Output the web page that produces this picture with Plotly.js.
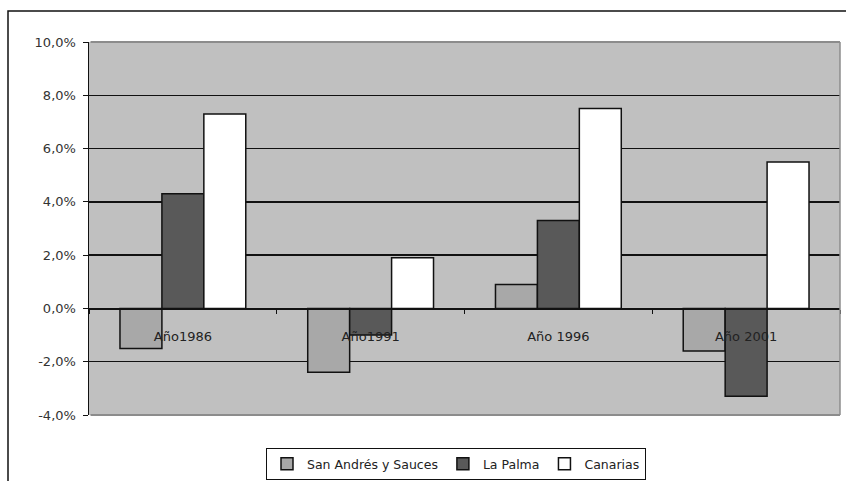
<!DOCTYPE html>
<html>
<head>
<meta charset="utf-8">
<script src="https://cdn.plot.ly/plotly-3.0.1.min.js"></script>
<style>html,body{margin:0;padding:0;background:#fff;}#chart{width:846px;height:481px;}</style>
</head>
<body>
<div id="chart"></div>
<script>
var categories = ["Año1986", "Año1991", "Año 1996", "Año 2001"];
var seriesNames = ["San Andrés y Sauces", "La Palma", "Canarias"];
var sanAndres = [-1.5, -2.4, 0.9, -1.6];
var laPalma = [4.3, -1.0, 3.3, -3.3];
var canarias = [7.3, 1.9, 7.5, 5.5];
var yTicks = [-4, -2, 0, 2, 4, 6, 8, 10];
var yTickText = yTicks.map(function (v) { return v.toFixed(1).replace(".", ",") + "%"; });

var colors = ["#a8a8a8", "#595959", "#ffffff"];
var values = [sanAndres, laPalma, canarias];
var traces = values.map(function (v, i) {
  return {
    type: "bar", x: categories, y: v, name: seriesNames[i],
    marker: {color: colors[i], line: {color: "#111", width: 1.5}},
    hoverinfo: "none"
  };
});

var yMin = -4, yMax = 10;
var layout = {
  width: 846, height: 481,
  margin: {l: 89, r: 6, t: 42, b: 66, pad: 0},
  paper_bgcolor: "#ffffff", plot_bgcolor: "#c0c0c0",
  font: {family: "DejaVu Sans, Liberation Sans, sans-serif", size: 12, color: "#222"},
  barmode: "group", bargap: 0.33, bargroupgap: 0,
  showlegend: true,
  legend: {orientation: "h", xref: "container", yref: "container",
           x: 266 / 846, xanchor: "left", y: (481 - 448) / 481, yanchor: "top",
           bordercolor: "#111", borderwidth: 1, bgcolor: "#fff",
           font: {size: 12.5, color: "#222"}, itemwidth: 30, tracegroupgap: 0},
  xaxis: {type: "category", anchor: "free", position: (0 - yMin) / (yMax - yMin),
          showgrid: false, zeroline: false, showline: true, linecolor: "#111", linewidth: 1.5,
          ticks: "outside", tickson: "boundaries", ticklen: 4, tickcolor: "#111",
          ticklabelstandoff: 15, tickfont: {size: 13, color: "#222"}},
  yaxis: {range: [yMin, yMax], tickmode: "array", tickvals: yTicks, ticktext: yTickText,
          showgrid: true, gridcolor: "#111", gridwidth: 1.5,
          zeroline: true, zerolinecolor: "#111", zerolinewidth: 1.5,
          showline: true, linecolor: "#111", linewidth: 1.5,
          ticks: "outside", ticklen: 5, tickcolor: "#111", ticklabelstandoff: 4,
          tickfont: {size: 13, color: "#333"}},
  shapes: [
    {type: "rect", xref: "paper", yref: "paper",
     x0: (8 - 89) / 751, x1: (870 - 89) / 751,
     y0: (415 - 510) / 373, y1: (415 - 11) / 373,
     line: {color: "#111", width: 1.5}, fillcolor: "rgba(0,0,0,0)", layer: "below"},
    {type: "line", xref: "paper", yref: "paper", x0: 0.002, x1: 1, y0: 1, y1: 1,
     line: {color: "#8c8c8c", width: 2}, layer: "above"},
    {type: "line", xref: "paper", yref: "paper", x0: 0.002, x1: 1, y0: 0, y1: 0,
     line: {color: "#8c8c8c", width: 2}, layer: "above"},
    {type: "line", xref: "paper", yref: "paper", x0: 1, x1: 1, y0: 0, y1: 1,
     line: {color: "#8c8c8c", width: 1.5}, layer: "above"}
  ]
};

Plotly.newPlot("chart", traces, layout, {displayModeBar: false, staticPlot: true});
</script>
</body>
</html>
